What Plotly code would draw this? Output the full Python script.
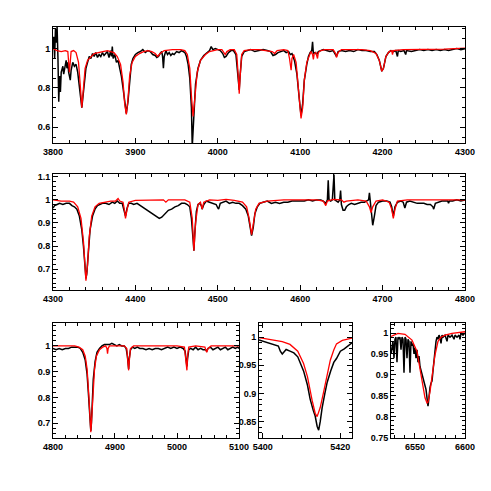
import plotly.graph_objects as go

# ---- panel 1: 3800-4300 ----
p1_obs_wave = [3800, 3801, 3802, 3803, 3804, 3805, 3806, 3807, 3808, 3809, 3810, 3812, 3813, 3815, 3816, 3817, 3818, 3819,
               3820, 3821, 3822, 3824, 3826, 3828, 3830, 3832, 3834, 3835, 3836, 3838, 3840, 3842, 3844, 3846, 3848, 3850,
               3852, 3854, 3856, 3858, 3860, 3862, 3864, 3866, 3868, 3870, 3871, 3872, 3873, 3875, 3877, 3879, 3881, 3883,
               3885, 3887, 3889, 3891, 3893, 3895, 3897, 3900, 3903, 3906, 3909, 3912, 3915, 3918, 3921, 3924, 3926, 3928,
               3930, 3932, 3933, 3934, 3935, 3937, 3939, 3941, 3943, 3945, 3947, 3950, 3953, 3956, 3958, 3960, 3962, 3964,
               3966, 3968, 3969, 3970, 3971, 3973, 3976, 3979, 3983, 3987, 3990, 3992, 3994, 3997, 4000, 4003, 4006, 4008,
               4010, 4013, 4016, 4019, 4022, 4024, 4026, 4027, 4029, 4032, 4036, 4040, 4045, 4050, 4055, 4060, 4064, 4067,
               4070, 4073, 4076, 4080, 4083, 4086, 4088, 4090, 4093, 4096, 4099, 4101, 4103, 4105, 4108, 4110, 4112, 4114,
               4115, 4116, 4118, 4120, 4122, 4125, 4128, 4132, 4136, 4140, 4143, 4144, 4146, 4150, 4155, 4160, 4165, 4170,
               4175, 4180, 4185, 4190, 4193, 4196, 4199, 4201, 4204, 4207, 4210, 4213, 4216, 4218, 4219, 4222, 4226, 4228,
               4229, 4235, 4240, 4245, 4250, 4255, 4260, 4265, 4270, 4275, 4280, 4285, 4290, 4295, 4300]
p1_obs_flux = [1.0, 1.06, 0.95, 1.1, 1.03, 1.11, 0.96, 0.73, 0.86, 0.78, 0.88, 0.91, 0.87, 0.92, 0.94, 0.9, 0.93, 0.88,
               0.86, 0.84, 0.89, 0.93, 0.91, 0.92, 0.88, 0.8, 0.72, 0.70, 0.74, 0.84, 0.9, 0.93, 0.96, 0.95, 0.975, 0.96,
               0.98, 0.955, 0.97, 0.96, 0.98, 0.965, 0.975, 0.985, 0.955, 0.99, 0.96, 1.01, 0.95, 0.97, 0.93, 0.94, 0.9, 0.86,
               0.8, 0.72, 0.67, 0.73, 0.85, 0.92, 0.95, 0.97, 0.98, 0.985, 0.995, 0.98, 0.99, 0.985, 0.97, 0.965, 0.955, 0.96,
               0.975, 0.985, 0.96, 0.9, 0.96, 0.99, 0.97, 0.98, 0.965, 0.975, 0.97, 0.985, 0.98, 0.99, 0.985, 0.98, 0.96, 0.92,
               0.85, 0.7, 0.5, 0.6, 0.7, 0.82, 0.9, 0.94, 0.965, 0.98, 0.99, 1.01, 0.995, 1.0, 0.995, 0.99, 0.975, 0.955,
               0.96, 0.98, 0.99, 0.99, 0.97, 0.88, 0.79, 0.86, 0.96, 0.985, 0.99, 0.995, 0.985, 0.99, 0.995, 0.99, 0.985, 0.965,
               0.97, 0.98, 0.985, 0.99, 0.98, 0.985, 0.97, 0.975, 0.94, 0.87, 0.74, 0.66, 0.72, 0.84, 0.92, 0.96, 0.98, 0.99,
               1.035, 0.975, 0.98, 0.97, 0.985, 0.99, 0.995, 0.99, 0.985, 0.99, 0.97, 0.96, 0.985, 0.99, 0.985, 0.99, 0.985, 0.995,
               0.99, 0.99, 0.985, 0.985, 0.97, 0.94, 0.885, 0.9, 0.96, 0.98, 0.99, 0.985, 0.99, 0.96, 0.99, 0.985, 0.99, 0.97,
               0.99, 0.985, 0.99, 0.995, 0.99, 0.995, 0.99, 0.995, 0.99, 0.995, 0.99, 0.995, 1.0, 0.995, 1.0]
p1_mod_wave = [3800, 3805, 3810, 3815, 3818, 3820, 3822, 3825, 3828, 3831, 3833, 3835, 3837, 3839, 3842, 3846, 3850, 3855,
               3860, 3866, 3870, 3874, 3878, 3882, 3885, 3887, 3889, 3891, 3893, 3896, 3900, 3905, 3910, 3915, 3920, 3924,
               3927, 3930, 3935, 3945, 3955, 3960, 3963, 3966, 3968, 3970, 3972, 3975, 3979, 3985, 3990, 3995, 4000, 4005,
               4007, 4009, 4011, 4015, 4020, 4023, 4025, 4026, 4027, 4029, 4032, 4040, 4050, 4060, 4066, 4069, 4072, 4080,
               4085, 4087, 4089, 4090, 4092, 4095, 4098, 4100, 4101, 4103, 4105, 4108, 4111, 4113, 4115, 4116, 4117, 4119,
               4121, 4122, 4125, 4130, 4140, 4143, 4144, 4146, 4150, 4165, 4175, 4185, 4192, 4196, 4199, 4201, 4204, 4208,
               4211, 4212, 4213, 4225, 4250, 4275, 4300]
p1_mod_flux = [1.0, 0.99, 0.985, 0.99, 0.985, 0.88, 0.985, 0.99, 0.98, 0.93, 0.82, 0.70, 0.80, 0.9, 0.94, 0.96, 0.975, 0.98,
               0.985, 0.99, 0.985, 0.98, 0.96, 0.92, 0.83, 0.72, 0.665, 0.74, 0.86, 0.93, 0.96, 0.975, 0.985, 0.99, 0.985, 0.975,
               0.96, 0.975, 0.99, 0.995, 0.995, 0.99, 0.97, 0.9, 0.76, 0.655, 0.74, 0.88, 0.94, 0.97, 0.985, 0.99, 0.995, 0.995,
               0.98, 0.97, 0.985, 0.995, 0.995, 0.97, 0.85, 0.77, 0.85, 0.97, 0.99, 0.995, 0.995, 0.99, 0.985, 0.975, 0.99, 0.995,
               0.99, 0.95, 0.89, 0.95, 0.97, 0.93, 0.8, 0.68, 0.645, 0.7, 0.84, 0.93, 0.97, 0.985, 0.97, 0.945, 0.975, 0.98,
               0.95, 0.98, 0.99, 0.995, 0.995, 0.975, 0.955, 0.98, 0.995, 0.995, 0.995, 0.99, 0.975, 0.94, 0.885, 0.9, 0.96, 0.985,
               0.99, 0.97, 0.99, 0.995, 0.995, 0.997, 1.003]

# ---- panel 2: 4300-4800 ----
p2_obs_wave = [4300, 4302, 4305, 4308, 4312, 4316, 4320, 4323, 4326, 4329, 4332, 4335, 4337, 4339, 4340, 4341, 4343, 4345,
               4348, 4351, 4354, 4357, 4360, 4364, 4368, 4372, 4375, 4378, 4381, 4384, 4386, 4388, 4390, 4392, 4395, 4398,
               4402, 4406, 4410, 4414, 4418, 4422, 4426, 4429, 4432, 4436, 4440, 4444, 4448, 4452, 4456, 4460, 4463, 4466,
               4468, 4470, 4471, 4472, 4474, 4476, 4478, 4480, 4481, 4483, 4486, 4490, 4494, 4498, 4500, 4501, 4503, 4506,
               4510, 4514, 4518, 4522, 4526, 4530, 4534, 4537, 4539, 4541, 4543, 4545, 4548, 4551, 4555, 4560, 4565, 4570,
               4575, 4580, 4585, 4590, 4595, 4600, 4605, 4610, 4615, 4620, 4625, 4628, 4631, 4633, 4634, 4635, 4637, 4639,
               4640, 4641, 4642, 4644, 4646, 4648, 4649, 4650, 4652, 4654, 4656, 4659, 4662, 4666, 4670, 4674, 4678, 4681,
               4683, 4684, 4685, 4686, 4688, 4690, 4692, 4695, 4700, 4705, 4709, 4711, 4713, 4715, 4718, 4722, 4725, 4727,
               4729, 4733, 4738, 4742, 4746, 4750, 4754, 4758, 4761, 4762, 4764, 4768, 4772, 4776, 4779, 4780, 4781, 4785,
               4790, 4795, 4800]
p2_obs_flux = [0.965, 0.975, 0.98, 0.985, 0.98, 0.985, 0.985, 0.975, 0.97, 0.96, 0.93, 0.87, 0.8, 0.7, 0.66, 0.68, 0.78, 0.87,
               0.93, 0.96, 0.975, 0.98, 0.985, 0.985, 0.98, 0.99, 0.985, 0.995, 0.985, 0.985, 0.96, 0.93, 0.965, 0.985, 0.985, 0.98,
               0.985, 0.975, 0.965, 0.955, 0.945, 0.935, 0.925, 0.92, 0.925, 0.94, 0.955, 0.96, 0.97, 0.975, 0.985, 0.985, 0.98, 0.97,
               0.92, 0.83, 0.78, 0.85, 0.95, 0.98, 0.985, 0.975, 0.96, 0.98, 0.995, 0.99, 0.985, 0.98, 0.965, 0.96, 0.985, 0.99,
               0.995, 0.985, 0.99, 0.985, 0.985, 0.975, 0.96, 0.93, 0.89, 0.845, 0.88, 0.94, 0.97, 0.985, 0.99, 0.995, 0.985, 0.99,
               0.985, 0.99, 0.99, 0.995, 0.995, 0.995, 0.995, 1.0, 0.995, 1.0, 1.0, 0.995, 0.985, 1.0, 1.085, 1.0, 0.995, 1.0,
               1.05, 1.11, 1.0, 0.995, 0.99, 1.0, 1.04, 0.98, 0.955, 0.955, 0.97, 0.98, 0.985, 0.98, 0.985, 0.99, 0.99, 0.995,
               1.0, 1.03, 1.0, 0.96, 0.89, 0.93, 0.975, 0.99, 0.995, 0.995, 0.99, 0.97, 0.93, 0.97, 0.99, 0.995, 0.99, 0.965,
               0.99, 0.995, 0.99, 0.985, 0.985, 0.985, 0.98, 0.98, 0.97, 0.96, 0.985, 0.99, 0.995, 0.995, 0.995, 0.985, 0.995, 0.995,
               1.0, 0.995, 1.0]
p2_mod_wave = [4300, 4310, 4320, 4325, 4330, 4334, 4337, 4339, 4340, 4342, 4344, 4347, 4351, 4356, 4362, 4370, 4376, 4379,
               4381, 4385, 4387, 4388, 4390, 4392, 4400, 4420, 4434, 4437, 4440, 4460, 4466, 4469, 4471, 4473, 4476, 4479,
               4481, 4483, 4490, 4500, 4510, 4520, 4530, 4535, 4538, 4541, 4543, 4546, 4550, 4560, 4580, 4600, 4620, 4628,
               4631, 4633, 4640, 4650, 4653, 4656, 4670, 4680, 4684, 4686, 4688, 4692, 4700, 4708, 4711, 4713, 4715, 4718,
               4730, 4760, 4800]
p2_mod_flux = [1.0, 0.995, 0.995, 0.99, 0.97, 0.92, 0.82, 0.7, 0.65, 0.72, 0.84, 0.93, 0.97, 0.985, 0.99, 0.995, 0.995, 1.006,
               0.995, 0.99, 0.95, 0.92, 0.96, 0.99, 0.998, 1.0, 1.0, 0.99, 1.0, 1.0, 0.99, 0.92, 0.78, 0.9, 0.98, 0.99,
               0.96, 0.99, 1.0, 0.998, 1.002, 0.998, 0.99, 0.97, 0.92, 0.85, 0.9, 0.96, 0.985, 0.995, 1.0, 1.0, 1.0, 0.995,
               0.975, 0.995, 1.002, 1.0, 0.99, 0.995, 1.0, 0.995, 0.97, 0.945, 0.97, 0.995, 1.0, 0.99, 0.96, 0.92, 0.96, 0.995,
               1.0, 1.0, 1.0]

# ---- panel 3: H-beta region 4800-5100 ----
p3_obs_wave = [4800, 4805, 4810, 4815, 4820, 4825, 4830, 4835, 4840, 4844, 4848, 4852, 4855, 4857, 4859, 4860, 4861, 4862,
               4863, 4865, 4868, 4871, 4875, 4879, 4883, 4887, 4891, 4895, 4899, 4903, 4907, 4911, 4915, 4918, 4920, 4921,
               4922, 4923, 4925, 4928, 4932, 4936, 4940, 4945, 4950, 4955, 4960, 4965, 4970, 4975, 4980, 4985, 4990, 4995,
               5000, 5005, 5010, 5013, 5015, 5016, 5017, 5019, 5022, 5026, 5030, 5034, 5038, 5042, 5046, 5048, 5050, 5054,
               5058, 5062, 5066, 5070, 5074, 5078, 5082, 5086, 5090, 5094, 5098, 5100]
p3_obs_flux = [0.99, 0.985, 0.99, 0.985, 0.99, 0.99, 0.995, 0.995, 0.995, 0.99, 0.975, 0.945, 0.89, 0.82, 0.73, 0.68, 0.67, 0.7,
               0.78, 0.87, 0.94, 0.975, 0.99, 1.0, 1.005, 1.005, 1.005, 1.01, 1.005, 1.0, 1.005, 1.0, 1.0, 0.99, 0.96, 0.92,
               0.91, 0.95, 0.985, 0.995, 0.99, 0.995, 0.99, 0.99, 0.985, 0.99, 0.985, 0.99, 0.99, 0.985, 0.99, 0.995, 0.99, 0.995,
               0.99, 0.995, 0.99, 0.98, 0.94, 0.92, 0.95, 0.985, 0.99, 0.985, 0.995, 0.985, 0.99, 0.985, 0.985, 0.98, 0.99, 0.995,
               0.985, 0.99, 0.995, 0.985, 0.99, 0.995, 0.985, 0.99, 0.995, 0.99, 0.995, 0.99]
p3_mod_wave = [4800, 4820, 4835, 4842, 4848, 4852, 4855, 4858, 4860, 4861, 4862, 4864, 4867, 4870, 4875, 4880, 4885, 4887,
               4888, 4889, 4891, 4900, 4915, 4919, 4921, 4922, 4923, 4925, 4930, 4960, 5000, 5012, 5014, 5016, 5017, 5019,
               5030, 5045, 5047, 5048, 5050, 5055, 5100]
p3_mod_flux = [1.0, 1.0, 1.0, 0.995, 0.985, 0.96, 0.91, 0.8, 0.7, 0.665, 0.7, 0.8, 0.91, 0.96, 0.985, 0.995, 1.0, 0.99,
               0.97, 0.99, 1.0, 1.0, 1.0, 0.99, 0.94, 0.905, 0.94, 0.99, 1.0, 1.0, 1.0, 0.995, 0.96, 0.905, 0.96, 0.995,
               1.0, 0.995, 0.98, 0.975, 0.99, 1.0, 1.0]

# ---- panel 4: He II 5411 ----
p4_obs_wave = [5399, 5400, 5401, 5402, 5403, 5404, 5404.5, 5405, 5405.5, 5406, 5407, 5408, 5409, 5410, 5410.5, 5411.5,
               5412.2, 5413, 5413.5, 5414, 5414.4, 5414.8, 5415.3, 5416, 5416.6, 5417.5, 5418.3, 5419, 5420, 5421, 5422, 5423]
p4_obs_flux = [0.995, 0.993, 0.99, 0.989, 0.987, 0.984, 0.975, 0.97, 0.974, 0.978, 0.975, 0.972, 0.965, 0.95, 0.94, 0.915,
               0.89, 0.87, 0.86, 0.842, 0.835, 0.85, 0.875, 0.9, 0.92, 0.94, 0.955, 0.962, 0.975, 0.979, 0.985, 0.99]
p4_mod_wave = [5399, 5402, 5405, 5407, 5409, 5410.5, 5411.5, 5412.7, 5413.5, 5414, 5414.8, 5415.6, 5416.5, 5417.4, 5418.3,
               5419, 5420.5, 5423]
p4_mod_flux = [0.999, 0.996, 0.992, 0.987, 0.975, 0.953, 0.93, 0.888, 0.865, 0.859, 0.875, 0.9, 0.93, 0.959, 0.977,
               0.988, 0.994, 0.998]

# ---- panel 5: H-alpha ----
p5_obs_wave = [6526, 6527, 6528, 6529, 6530, 6531, 6532, 6533, 6534, 6535, 6536, 6537, 6538, 6539, 6540, 6541, 6542, 6543,
               6544, 6545, 6546, 6547, 6548, 6549, 6550, 6551, 6552, 6553, 6554, 6555, 6556, 6557, 6558, 6559, 6560, 6561,
               6562, 6563, 6563.5, 6564, 6565, 6566, 6567, 6568, 6569, 6570, 6571, 6572, 6573, 6574, 6575, 6576, 6577, 6578,
               6580, 6582, 6583, 6585, 6587, 6589, 6590, 6592, 6594, 6595, 6596, 6598, 6600]
p5_obs_flux = [0.95, 0.97, 0.98, 0.94, 0.985, 0.99, 0.93, 0.99, 0.985, 0.99, 0.96, 0.99, 0.985, 0.905, 0.99, 0.985, 0.94, 0.985,
               0.98, 0.905, 0.98, 0.97, 0.975, 0.95, 0.965, 0.94, 0.96, 0.93, 0.945, 0.92, 0.91, 0.9, 0.895, 0.88, 0.87, 0.865,
               0.845, 0.825, 0.835, 0.85, 0.87, 0.88, 0.885, 0.91, 0.94, 0.965, 0.98, 0.99, 0.985, 0.995, 0.99, 0.975, 0.995, 0.99,
               0.995, 0.98, 0.995, 0.99, 0.995, 0.985, 0.995, 0.99, 0.995, 0.985, 1.0, 0.995, 1.0]
p5_mod_wave = [6526, 6533, 6540, 6547, 6552, 6555, 6558, 6560, 6562, 6563, 6565, 6567, 6570, 6573, 6576, 6580, 6587, 6600]
p5_mod_flux = [0.992, 0.999, 0.997, 0.983, 0.956, 0.916, 0.868, 0.845, 0.833, 0.835, 0.86, 0.892, 0.948, 0.98, 0.99,
               0.995, 0.999, 1.003]

# domains are offset by the 8px page margin around the plot div
panels = [
    # obs wave, obs flux, model wave, model flux, x range, y range, x dtick, x minor, y dtick, y minor, x domain, y domain
    (p1_obs_wave, p1_obs_flux, p1_mod_wave, p1_mod_flux, [3800, 4300], [0.52, 1.11], 100, 20, 0.2, 0.05,
     [0.0916, 0.9308], [0.7251, 0.9613]),
    (p2_obs_wave, p2_obs_flux, p2_mod_wave, p2_mod_flux, [4300, 4800], [0.61, 1.112], 100, 20, 0.1, 0.02,
     [0.0916, 0.9308], [0.4257, 0.6619]),
    (p3_obs_wave, p3_obs_flux, p3_mod_wave, p3_mod_flux, [4800, 5100], [0.642, 1.089], 100, 20, 0.1, 0.02,
     [0.0916, 0.4705], [0.1242, 0.3585]),
    (p4_obs_wave, p4_obs_flux, p4_mod_wave, p4_mod_flux, [5399, 5423], [0.821, 1.025], 20, 5, 0.05, 0.01,
     [0.5112, 0.7006], [0.1242, 0.3585]),
    (p5_obs_wave, p5_obs_flux, p5_mod_wave, p5_mod_flux, [6526, 6600], [0.749, 1.024], 50, 10, 0.05, 0.01,
     [0.7800, 0.9308], [0.1242, 0.3585]),
]

fig = go.Figure()
font = dict(family="Liberation Sans, Arial, sans-serif", size=9, color="black", weight="bold")

for i, (ow, of, mw, mf, xr, yr, xd, xm, yd, ym, xdom, ydom) in enumerate(panels):
    n = "" if i == 0 else str(i + 1)
    fig.add_trace(go.Scatter(x=ow, y=of, mode="lines", line=dict(color="black", width=1.5),
                             xaxis="x" + n, yaxis="y" + n, showlegend=False))
    fig.add_trace(go.Scatter(x=mw, y=mf, mode="lines", line=dict(color="#ff0000", width=1.3),
                             xaxis="x" + n, yaxis="y" + n, showlegend=False))
    common = dict(showline=True, linecolor="black", linewidth=1, mirror="ticks", ticks="inside",
                  ticklen=5, tickcolor="black", showgrid=False, zeroline=False, tickfont=font,
                  automargin=False)
    fig.layout["xaxis" + n] = dict(range=xr, domain=xdom, dtick=xd, anchor="y" + n,
                                   minor=dict(dtick=xm, ticks="inside", ticklen=3, tickcolor="black"), **common)
    fig.layout["yaxis" + n] = dict(range=yr, domain=ydom, dtick=yd, anchor="x" + n,
                                   minor=dict(dtick=ym, ticks="inside", ticklen=3, tickcolor="black"), **common)

fig.update_layout(width=491, height=491, margin=dict(l=0, r=0, t=0, b=0),
                  plot_bgcolor="white", paper_bgcolor="white", font=font)
fig.write_html("out.html")
